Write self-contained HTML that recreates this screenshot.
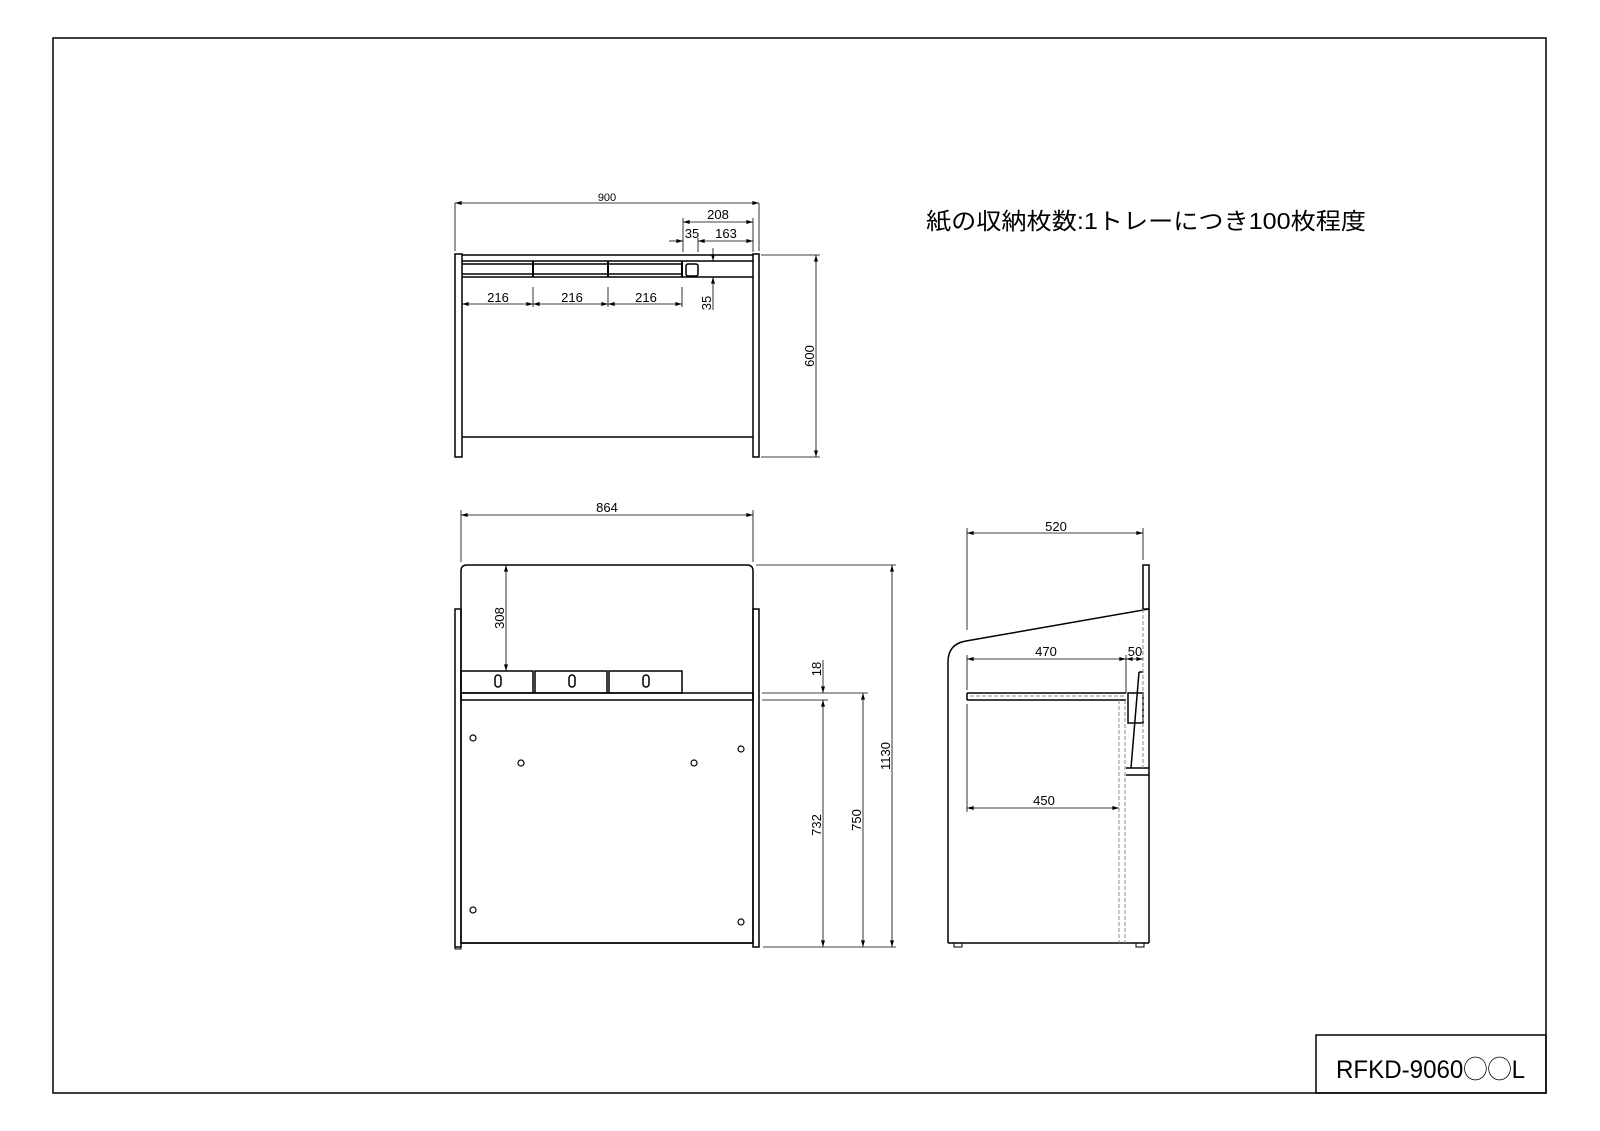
<!DOCTYPE html>
<html><head><meta charset="utf-8"><style>
html,body{margin:0;padding:0;background:#fff}
svg{display:block}
text{font-family:"Liberation Sans","Noto Sans CJK JP",sans-serif;fill:#000}
</style></head><body>
<svg width="1600" height="1131" viewBox="0 0 1600 1131" xmlns="http://www.w3.org/2000/svg">
<defs>
<marker id="a" viewBox="0 0 10 6" refX="10" refY="3" markerWidth="8" markerHeight="4" orient="auto-start-reverse" markerUnits="userSpaceOnUse"><path d="M0,0L10,3L0,6z" fill="#000"/></marker>
</defs>
<rect x="53" y="38" width="1493" height="1055" fill="none" stroke="#000" stroke-width="1.5"/>
<rect x="1316" y="1035" width="230" height="58" fill="none" stroke="#000" stroke-width="1.5"/>
<text x="1336" y="1078" font-size="25" textLength="189" lengthAdjust="spacingAndGlyphs">RFKD-9060◯◯L</text>
<text x="926" y="229" font-size="23" textLength="440" lengthAdjust="spacingAndGlyphs">紙の収納枚数:1トレーにつき100枚程度</text>

<g fill="none" stroke="#000" stroke-width="1.5">
<!-- top view -->
<rect x="455" y="254" width="7" height="203"/>
<rect x="753" y="254" width="6" height="203"/>
<line x1="462" y1="255" x2="753" y2="255"/>
<line x1="462" y1="261" x2="753" y2="261"/>
<line x1="462" y1="277" x2="753" y2="277"/>
<line x1="462" y1="264" x2="682" y2="264"/>
<line x1="462" y1="274" x2="682" y2="274"/>
<line x1="533" y1="261" x2="533" y2="277" stroke-width="2"/>
<line x1="608" y1="261" x2="608" y2="277" stroke-width="2"/>
<line x1="682" y1="261" x2="682" y2="277" stroke-width="2"/>
<rect x="686" y="264" width="12" height="12" rx="2"/>
<line x1="462" y1="437" x2="753" y2="437"/>
<!-- front view -->
<path d="M461,943 V571 Q461,565 467,565 H747 Q753,565 753,571 V943 Z"/>
<rect x="455" y="609" width="6" height="338"/>
<rect x="753" y="609" width="6" height="338"/>
<line x1="461" y1="943" x2="753" y2="943"/>
<rect x="461" y="671" width="72" height="22"/>
<rect x="535" y="671" width="72" height="22"/>
<rect x="609" y="671" width="73" height="22"/>
<rect x="461" y="693" width="292" height="7"/>
<rect x="495" y="675" width="6" height="12" rx="3"/>
<rect x="569" y="675" width="6" height="12" rx="3"/>
<rect x="643" y="675" width="6" height="12" rx="3"/>
<g stroke-width="1.2"><circle cx="473" cy="738" r="3"/><circle cx="521" cy="763" r="3"/><circle cx="694" cy="763" r="3"/><circle cx="741" cy="749" r="3"/><circle cx="473" cy="910" r="3"/><circle cx="741" cy="922" r="3"/></g>
<!-- side view -->
<path d="M948,943 V662 Q948,644 966,641 L1149,609"/>
<rect x="1143" y="565" width="6" height="44"/>
<line x1="1149" y1="609" x2="1149" y2="943"/>
<line x1="948" y1="943" x2="1149" y2="943"/>
<line x1="967" y1="693" x2="1126" y2="693"/>
<line x1="967" y1="700" x2="1126" y2="700"/>
<line x1="967" y1="693" x2="967" y2="700"/>
<line x1="1139" y1="672" x2="1131" y2="768"/>
<line x1="1139" y1="672" x2="1143" y2="672"/>
<rect x="1128" y="693" width="15" height="30"/>
<line x1="1126" y1="768" x2="1149" y2="768"/>
<line x1="1126" y1="775" x2="1149" y2="775"/>
<rect x="954" y="943" width="8" height="4" stroke-width="1"/>
<rect x="1136" y="943" width="8" height="4" stroke-width="1"/>
<rect x="455" y="947" width="6" height="2" stroke-width="1"/>
</g>
<g fill="none" stroke="#888" stroke-width="1" stroke-dasharray="4,2">
<line x1="1119" y1="700" x2="1119" y2="943"/>
<line x1="1125" y1="700" x2="1125" y2="943"/>
<line x1="1143" y1="609" x2="1143" y2="768"/>
<line x1="970" y1="696" x2="1124" y2="696"/>
</g>

<!-- dimensions -->
<g stroke="#000" stroke-width="0.8" fill="none">
<line x1="455" y1="203" x2="455" y2="251"/><line x1="759" y1="203" x2="759" y2="251"/>
<line x1="455" y1="203" x2="759" y2="203" marker-start="url(#a)" marker-end="url(#a)"/>
<line x1="683" y1="218" x2="683" y2="252"/><line x1="698" y1="238" x2="698" y2="252"/><line x1="753" y1="218" x2="753" y2="252"/>
<line x1="683" y1="222" x2="753" y2="222" marker-start="url(#a)" marker-end="url(#a)"/>
<line x1="669" y1="241" x2="683" y2="241" marker-end="url(#a)"/>
<line x1="698" y1="241" x2="753" y2="241" marker-start="url(#a)" marker-end="url(#a)"/>
<line x1="462" y1="287" x2="462" y2="307"/><line x1="533" y1="287" x2="533" y2="307"/><line x1="608" y1="287" x2="608" y2="307"/><line x1="682" y1="287" x2="682" y2="307"/>
<line x1="462" y1="304" x2="533" y2="304" marker-start="url(#a)" marker-end="url(#a)"/>
<line x1="533" y1="304" x2="608" y2="304" marker-start="url(#a)" marker-end="url(#a)"/>
<line x1="608" y1="304" x2="682" y2="304" marker-start="url(#a)" marker-end="url(#a)"/>
<line x1="700" y1="261" x2="718" y2="261"/><line x1="700" y1="277" x2="718" y2="277"/>
<line x1="713" y1="248" x2="713" y2="261" marker-end="url(#a)"/>
<line x1="713" y1="310" x2="713" y2="277" marker-end="url(#a)"/>
<line x1="761" y1="255" x2="820" y2="255"/><line x1="761" y1="457" x2="820" y2="457"/>
<line x1="816" y1="255" x2="816" y2="457" marker-start="url(#a)" marker-end="url(#a)"/>
<!-- front dims -->
<line x1="461" y1="510" x2="461" y2="562"/><line x1="753" y1="510" x2="753" y2="562"/>
<line x1="461" y1="515" x2="753" y2="515" marker-start="url(#a)" marker-end="url(#a)"/>
<line x1="506" y1="565" x2="506" y2="671" marker-start="url(#a)" marker-end="url(#a)"/>
<line x1="756" y1="565" x2="896" y2="565"/>
<line x1="762" y1="693" x2="868" y2="693"/>
<line x1="762" y1="700" x2="828" y2="700"/>
<line x1="763" y1="947" x2="896" y2="947"/>
<line x1="823" y1="660" x2="823" y2="693" marker-end="url(#a)"/>
<line x1="823" y1="700" x2="823" y2="947" marker-start="url(#a)" marker-end="url(#a)"/>
<line x1="863" y1="693" x2="863" y2="947" marker-start="url(#a)" marker-end="url(#a)"/>
<line x1="892" y1="565" x2="892" y2="947" marker-start="url(#a)" marker-end="url(#a)"/>
<!-- side dims -->
<line x1="967" y1="528" x2="967" y2="630"/><line x1="967" y1="655" x2="967" y2="690"/><line x1="967" y1="704" x2="967" y2="812"/>
<line x1="1143" y1="528" x2="1143" y2="560"/>
<line x1="967" y1="533" x2="1143" y2="533" marker-start="url(#a)" marker-end="url(#a)"/>
<line x1="1126" y1="655" x2="1126" y2="693"/>
<line x1="967" y1="659" x2="1126" y2="659" marker-start="url(#a)" marker-end="url(#a)"/>
<line x1="1126" y1="659" x2="1143" y2="659" marker-start="url(#a)" marker-end="url(#a)"/>
<line x1="967" y1="808" x2="1119" y2="808" marker-start="url(#a)" marker-end="url(#a)"/>
</g>
<g font-size="13">
<text x="607" y="201" text-anchor="middle" font-size="11">900</text>
<text x="718" y="219" text-anchor="middle">208</text>
<text x="692" y="238" text-anchor="middle">35</text>
<text x="726" y="238" text-anchor="middle">163</text>
<text x="498" y="302" text-anchor="middle">216</text>
<text x="572" y="302" text-anchor="middle">216</text>
<text x="646" y="302" text-anchor="middle">216</text>
<text transform="translate(711,303) rotate(-90)" text-anchor="middle">35</text>
<text transform="translate(814,356) rotate(-90)" text-anchor="middle">600</text>
<text x="607" y="512" text-anchor="middle">864</text>
<text transform="translate(504,618) rotate(-90)" text-anchor="middle">308</text>
<text transform="translate(821,669) rotate(-90)" text-anchor="middle">18</text>
<text transform="translate(821,825) rotate(-90)" text-anchor="middle">732</text>
<text transform="translate(861,820) rotate(-90)" text-anchor="middle">750</text>
<text transform="translate(890,756) rotate(-90)" text-anchor="middle">1130</text>
<text x="1056" y="531" text-anchor="middle">520</text>
<text x="1046" y="656" text-anchor="middle">470</text>
<text x="1135" y="656" text-anchor="middle">50</text>
<text x="1044" y="805" text-anchor="middle">450</text>
</g>
</svg>
</body></html>
